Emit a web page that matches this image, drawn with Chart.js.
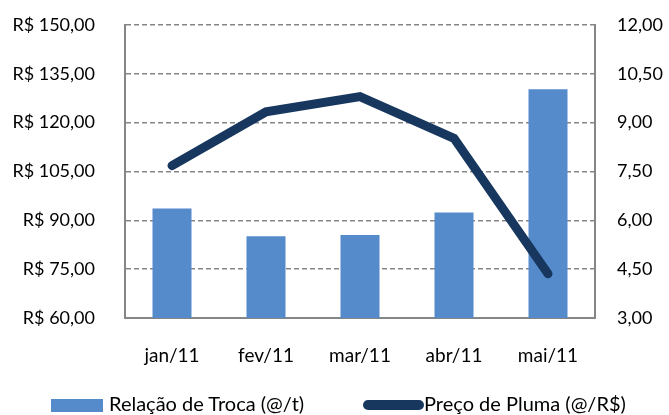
<!DOCTYPE html>
<html>
<head>
<meta charset="utf-8">
<script src="https://cdn.jsdelivr.net/npm/chart.js@4.4.0/dist/chart.umd.min.js"></script>
<style>
  html, body { margin: 0; padding: 0; background: #fff; }
  #wrap { position: relative; width: 669px; height: 415px; font-family: Lato, sans-serif; }
  #legend { position: absolute; left: 0; top: 0; width: 669px; height: 415px; pointer-events: none; }
  .sw-bar { position: absolute; left: 51px; top: 399px; width: 52px; height: 13px; background: #558ACB; }
  .sw-line { position: absolute; left: 363px; top: 400px; width: 61px; height: 10px; border-radius: 5px; background: #17375E; }
  .lbl { position: absolute; top: 391px; font-size: 20px; line-height: 24px; color: #000; white-space: nowrap; }
</style>
</head>
<body>
<div id="wrap">
  <canvas id="chart" width="669" height="415"></canvas>
  <div id="legend">
    <div class="sw-bar"></div>
    <div class="lbl" style="left:109px">Relação de Troca (@/t)</div>
    <div class="sw-line"></div>
    <div class="lbl" style="left:424px">Preço de Pluma (@/R$)</div>
  </div>
</div>
<script>
// data
const months = ['jan/11', 'fev/11', 'mar/11', 'abr/11', 'mai/11'];
const relacaoTroca = [6.36, 5.51, 5.55, 6.24, 10.03];   // right axis
const precoPluma = [106.8, 123.3, 128.0, 115.2, 73.6];  // left axis (R$)
const leftTicks = [60, 75, 90, 105, 120, 135, 150];
const rightTicks = [3, 4.5, 6, 7.5, 9, 10.5, 12];

const fmt = v => v.toFixed(2).replace('.', ',');
const yFont = { family: 'Lato', size: 18 };
const xFont = { family: 'Lato', size: 19 };

// fix the axis boxes so the plot area lands where the reference has it
function fixY(w) {
  return s => { s.width = w; s.paddingTop = 0; s.paddingBottom = 0; };
}

new Chart(document.getElementById('chart'), {
  data: {
    labels: months,
    datasets: [
      {
        type: 'bar',
        label: 'Relação de Troca (@/t)',
        data: relacaoTroca,
        yAxisID: 'y1',
        backgroundColor: '#558ACB',
        categoryPercentage: 1,
        barPercentage: 0.415,
        order: 1
      },
      {
        type: 'line',
        label: 'Preço de Pluma (@/R$)',
        data: precoPluma,
        yAxisID: 'y',
        borderColor: '#17375E',
        borderWidth: 9,
        borderCapStyle: 'round',
        borderJoinStyle: 'miter',
        pointRadius: 0,
        tension: 0,
        order: 0
      }
    ]
  },
  options: {
    responsive: false,
    animation: false,
    layout: { padding: { top: 25, bottom: 0, left: 0, right: 0 } },
    plugins: { legend: { display: false }, tooltip: { enabled: false } },
    scales: {
      x: {
        grid: { display: false, drawTicks: false },
        border: { display: true, color: '#868686', width: 2 },
        ticks: { font: xFont, color: '#000', padding: 26 },
        afterFit: s => { s.height = 97; s.paddingLeft = 0; s.paddingRight = 0; }
      },
      y: {
        position: 'left',
        min: 60, max: 150,
        afterBuildTicks: s => { s.ticks = leftTicks.map(v => ({ value: v })); },
        grid: { color: '#868686', lineWidth: 1.5, drawTicks: false },
        border: { display: true, color: '#868686', width: 2, dash: [5, 3] },
        ticks: { font: yFont, color: '#000', padding: 30, callback: v => 'R$ ' + fmt(v) },
        afterFit: fixY(125)
      },
      y1: {
        position: 'right',
        min: 3, max: 12,
        afterBuildTicks: s => { s.ticks = rightTicks.map(v => ({ value: v })); },
        grid: { drawOnChartArea: false, drawTicks: false },
        border: { display: true, color: '#868686', width: 2 },
        ticks: { font: yFont, color: '#000', padding: 22, callback: v => fmt(v) },
        afterFit: fixY(74)
      }
    }
  }
});
</script>
</body>
</html>
